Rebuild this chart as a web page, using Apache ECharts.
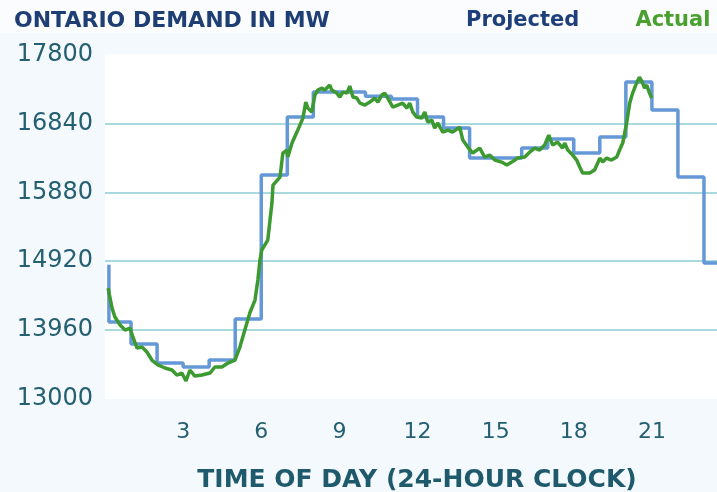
<!doctype html>
<html lang="en">
<head>
    <meta charset="UTF-8">
    <title>Ontario Demand</title>
    <script src="https://cdn.jsdelivr.net/npm/echarts@6/dist/echarts.min.js"></script>
    <style>
        html, body {
            margin: 0;
            padding: 0;
            background: #f4f9fd;
        }
        #chart {
            width: 717px;
            height: 492px;
        }
    </style>
</head>
<body>
<div id="chart"></div>
<script>
    // projected demand, hourly steps (hour, MW)
    const projectedHours = [0.15, 0.15, 1, 2, 3, 4, 5, 6, 7, 8, 9, 10, 11, 12, 13, 14, 15, 16, 17, 18, 19, 20, 21, 22, 23, 23.5];
    const projectedMW = [14870, 14073, 13766, 13501, 13446, 13543, 14114, 16120, 16928, 17276, 17276, 17220, 17180, 16928,
        16775, 16357, 16357, 16496, 16622, 16427, 16650, 17416, 17026, 16092, 14894, 14894];

    // actual demand (hour, MW)
    const actualHours = [0.12, 0.27, 0.38, 0.58, 0.77, 0.96, 1.07, 1.23, 1.42, 1.61, 1.80, 2.03, 2.30, 2.57, 2.76, 2.95,
        3.11, 3.26, 3.45, 3.72, 4.03, 4.22, 4.49, 4.72, 4.99, 5.18, 5.37, 5.56, 5.76, 5.87, 5.95, 6.02, 6.25, 6.41, 6.45,
        6.72, 6.83, 6.98, 7.02, 7.18, 7.37, 7.60, 7.71, 7.79, 7.94, 8.06, 8.17, 8.33, 8.44, 8.63, 8.71, 8.90, 9.02, 9.13,
        9.29, 9.40, 9.52, 9.67, 9.79, 9.98, 10.17, 10.36, 10.48, 10.63, 10.74, 10.86, 11.05, 11.24, 11.43, 11.59, 11.70,
        11.82, 11.97, 12.16, 12.28, 12.39, 12.55, 12.66, 12.78, 12.97, 13.16, 13.35, 13.62, 13.74, 13.93, 14.12, 14.39,
        14.58, 14.77, 14.97, 15.23, 15.43, 15.62, 15.85, 16.12, 16.31, 16.50, 16.69, 16.88, 17.04, 17.19, 17.38, 17.57,
        17.65, 17.77, 17.96, 18.11, 18.23, 18.34, 18.61, 18.80, 18.92, 19.00, 19.11, 19.26, 19.45, 19.65, 19.76, 19.88,
        20.03, 20.15, 20.26, 20.38, 20.52, 20.63, 20.72, 20.80, 20.91, 20.99];
    const actualMW = [14546, 14268, 14142, 14031, 13961, 13989, 13864, 13710, 13724, 13655, 13543, 13474, 13432, 13404,
        13334, 13362, 13251, 13404, 13320, 13334, 13362, 13446, 13446, 13501, 13543, 13724, 13961, 14198, 14379, 14658,
        14936, 15076, 15215, 15730, 15981, 16092, 16427, 16469, 16371, 16566, 16719, 16914, 17137, 17053, 16998, 17235,
        17304, 17332, 17304, 17374, 17304, 17262, 17207, 17276, 17262, 17360, 17207, 17193, 17123, 17095, 17137, 17193,
        17137, 17235, 17262, 17193, 17067, 17095, 17123, 17053, 17123, 16998, 16928, 16914, 16998, 16858, 16886, 16775,
        16845, 16719, 16747, 16719, 16789, 16608, 16510, 16427, 16496, 16371, 16399, 16329, 16301, 16260, 16301, 16357,
        16371, 16441, 16496, 16469, 16538, 16677, 16538, 16580, 16496, 16566, 16469, 16399, 16329, 16232, 16148, 16148,
        16190, 16287, 16357, 16301, 16357, 16329, 16371, 16469, 16566, 16845, 17123, 17262, 17374, 17485, 17416, 17332,
        17374, 17262, 17193];

    const yMin = 13000;
    const yMax = 17800;
    const yStep = 960;

    const myChart = echarts.init(document.getElementById('chart'));
    const option = {
        backgroundColor: '#f4f9fd',
        animation: false,
        // lighter band behind the heading
        graphic: [{
            type: 'rect',
            z: 0,
            shape: { x: 0, y: 0, width: 717, height: 33 },
            style: { fill: '#fafcfe' }
        }],
        title: {
            text: 'ONTARIO DEMAND IN MW',
            left: 9,
            top: 5,
            textStyle: {
                fontFamily: 'DejaVu Sans',
                fontSize: 22,
                fontWeight: 'bold',
                color: '#1f3f74'
            }
        },
        legend: {
            left: 456,
            top: 5,
            icon: 'none',
            itemWidth: 0,
            itemGap: 51,
            textStyle: {
                fontFamily: 'DejaVu Sans',
                fontSize: 21,
                fontWeight: 'bold'
            },
            data: [
                { name: 'Projected', textStyle: { color: '#1f3f7a' } },
                { name: 'Actual', textStyle: { color: '#49a02f' } }
            ]
        },
        grid: {
            left: 105,
            right: 0,
            top: 54.5,
            bottom: 93,
            containLabel: false,
            outerBoundsMode: 'none',
            show: true,
            backgroundColor: '#ffffff',
            borderWidth: 0
        },
        xAxis: {
            type: 'value',
            min: 0,
            max: 23.5,
            interval: 3,
            name: 'TIME OF DAY (24-HOUR CLOCK)',
            nameLocation: 'middle',
            nameGap: 69,
            nameTextStyle: {
                fontFamily: 'DejaVu Sans',
                fontSize: 25,
                fontWeight: 'bold',
                color: '#1f5a6c',
                padding: [0, 0, 0, 12]
            },
            axisLine: { show: false },
            axisTick: { show: false },
            splitLine: { show: false },
            axisLabel: {
                margin: 22,
                fontFamily: 'DejaVu Sans',
                fontSize: 22,
                color: '#245f72',
                showMaxLabel: false,
                formatter: v => (v === 0 || v % 3 !== 0 ? '' : String(v))
            }
        },
        yAxis: {
            type: 'value',
            min: yMin,
            max: yMax,
            interval: yStep,
            axisLine: { show: false },
            axisTick: { show: false },
            splitLine: {
                show: true,
                showMinLine: false,
                showMaxLine: false,
                lineStyle: { color: '#a8dadf', width: 2 }
            },
            axisLabel: {
                margin: 12,
                fontFamily: 'DejaVu Sans',
                fontSize: 24,
                color: '#245f72',
                formatter: v => String(v)
            }
        },
        series: [
            {
                name: 'Projected',
                type: 'line',
                step: 'end',
                showSymbol: false,
                lineStyle: { color: '#6598d6', width: 3.5 },
                itemStyle: { color: '#6598d6' },
                data: projectedHours.map((h, i) => [h, projectedMW[i]])
            },
            {
                name: 'Actual',
                type: 'line',
                showSymbol: false,
                lineStyle: { color: '#3c9a30', width: 3.5 },
                itemStyle: { color: '#3c9a30' },
                data: actualHours.map((h, i) => [h, actualMW[i]])
            }
        ]
    };

    myChart.setOption(option);
</script>
</body>
</html>
